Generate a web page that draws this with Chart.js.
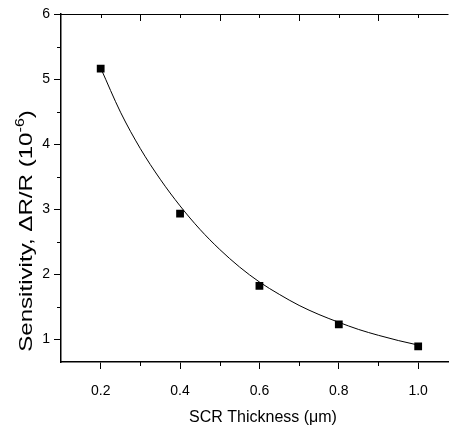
<!DOCTYPE html>
<html lang="en">
<head>
<meta charset="UTF-8">
<title>Sensitivity vs SCR Thickness</title>
<script src="https://cdn.jsdelivr.net/npm/chart.js"></script>
<style>
  html, body { margin: 0; padding: 0; background: #fff; overflow: hidden; }
</style>
</head>
<body>
<canvas id="sensChart" width="454" height="427"></canvas>
<script>
// measured points
const thickness = [0.2, 0.4, 0.6, 0.8, 1.0];
const sensitivity = [5.16, 2.93, 1.82, 1.23, 0.89];

// fitted curve
const fitX = [0.2, 0.25, 0.3, 0.35, 0.4, 0.45, 0.5, 0.55, 0.6, 0.65, 0.7, 0.75, 0.8, 0.85, 0.9, 0.95, 1.0];
const fitY = [5.17, 4.49, 3.93, 3.46, 3.05, 2.69, 2.38, 2.11, 1.88, 1.69, 1.52, 1.38, 1.26, 1.15, 1.06, 0.98, 0.91];

const xTicks = [0.2, 0.4, 0.6, 0.8, 1.0];
const xMinor = [0.3, 0.5, 0.7, 0.9];
const yTicks = [1, 2, 3, 4, 5, 6];
const yMinor = [1.5, 2.5, 3.5, 4.5, 5.5];

const FONT = '"Liberation Sans", Arial, sans-serif';

// axis frame bits Chart.js doesn't do: minor ticks, top axis, titles
const frameBits = {
    id: 'frameBits',
    afterDraw(chart) {
        const { ctx, chartArea: a, scales: { x, y } } = chart;
        ctx.save();
        ctx.strokeStyle = '#000';
        ctx.lineWidth = 1;
        ctx.beginPath();
        // top axis line
        ctx.moveTo(a.left, a.top + 0.5);
        ctx.lineTo(a.right, a.top + 0.5);
        // top ticks (point down)
        [0.2, 0.3, 0.4, 0.5, 0.6, 0.7, 0.8, 0.9, 1.0].forEach(v => {
            const px = Math.round(x.getPixelForValue(v)) + 0.5;
            const len = xMinor.includes(v) ? 7 : 4;
            ctx.moveTo(px, a.top);
            ctx.lineTo(px, a.top + len);
        });
        // bottom minor ticks
        xMinor.forEach(v => {
            const px = Math.round(x.getPixelForValue(v)) + 0.5;
            ctx.moveTo(px, a.bottom);
            ctx.lineTo(px, a.bottom + 4);
        });
        // left minor ticks
        yMinor.forEach(v => {
            const py = Math.round(y.getPixelForValue(v)) + 0.5;
            ctx.moveTo(a.left, py);
            ctx.lineTo(a.left - 4, py);
        });
        ctx.stroke();

        ctx.fillStyle = '#000';
        // x title
        ctx.font = '16px ' + FONT;
        ctx.textAlign = 'center';
        ctx.textBaseline = 'middle';
        ctx.fillText('SCR Thickness (\u03bcm)', 263, 418);

        // y title with superscript, rotated and a bit stretched like the original
        const base = 'Sensitivity, \u0394R/R (10';
        const sup = '-6';
        const tail = ')';
        ctx.translate(26, 231);
        ctx.rotate(-Math.PI / 2);
        ctx.scale(1.34, 1);
        ctx.font = '18px ' + FONT;
        const wBase = ctx.measureText(base).width;
        const wTail = ctx.measureText(tail).width;
        ctx.font = '12px ' + FONT;
        const wSup = ctx.measureText(sup).width;
        const total = wBase + wSup + wTail;
        let cx = -total / 2;
        ctx.textAlign = 'left';
        ctx.textBaseline = 'alphabetic';
        ctx.font = '18px ' + FONT;
        ctx.fillText(base, cx, 6);
        cx += wBase;
        ctx.font = '12px ' + FONT;
        ctx.fillText(sup, cx, -2);
        cx += wSup;
        ctx.font = '18px ' + FONT;
        ctx.fillText(tail, cx, 6);
        ctx.restore();
    }
};

new Chart(document.getElementById('sensChart'), {
    type: 'scatter',
    data: {
        datasets: [
            {
                label: 'fit',
                data: fitX.map((v, i) => ({ x: v, y: fitY[i] })),
                showLine: true,
                borderColor: '#000',
                borderWidth: 1,
                pointRadius: 0,
                cubicInterpolationMode: 'monotone',
                order: 2
            },
            {
                label: 'data',
                data: thickness.map((v, i) => ({ x: v, y: sensitivity[i] })),
                pointStyle: 'rect',
                pointRadius: 5.5,
                backgroundColor: '#000',
                borderColor: '#000',
                borderWidth: 0,
                order: 1
            }
        ]
    },
    options: {
        responsive: false,
        animation: false,
        layout: { padding: { top: 14, right: 0, left: 0, bottom: 0 } },
        plugins: {
            legend: { display: false },
            tooltip: { enabled: false }
        },
        scales: {
            x: {
                type: 'linear',
                min: 0.1,
                max: 1.0764,
                afterBuildTicks: s => { s.ticks = xTicks.map(v => ({ value: v })); },
                afterFit: s => { s.height = 65; },
                ticks: {
                    color: '#000',
                    font: { size: 14, family: FONT },
                    padding: 14,
                    maxRotation: 0,
                    callback: v => v.toFixed(1)
                },
                grid: { drawOnChartArea: false, color: '#000', tickLength: 7, tickWidth: 1 },
                border: { color: '#000', width: 1.5 }
            },
            y: {
                min: 0.65,
                max: 6,
                afterBuildTicks: s => { s.ticks = yTicks.map(v => ({ value: v })); },
                afterFit: s => { s.width = 61; },
                ticks: {
                    color: '#000',
                    font: { size: 14, family: FONT },
                    padding: 4,
                    callback: v => String(v)
                },
                grid: { drawOnChartArea: false, color: '#000', tickLength: 7, tickWidth: 1 },
                border: { color: '#000', width: 1.5 }
            }
        }
    },
    plugins: [frameBits]
});
</script>
</body>
</html>
